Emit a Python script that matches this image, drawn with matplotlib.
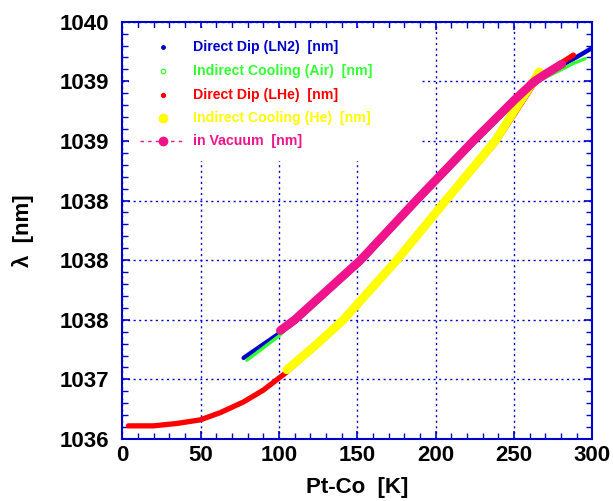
import numpy as np
import matplotlib
matplotlib.use("Agg")
import matplotlib.pyplot as plt
from matplotlib.patches import Rectangle
from matplotlib.ticker import MultipleLocator, FixedLocator

plt.rcParams['font.family'] = ['Liberation Sans', 'DejaVu Sans']
plt.rcParams['font.weight'] = 'bold'

# --- data ---
# Direct Dip (LN2)
ln2_T = [77.4, 100.6, 110.0, 152.0, 187.5, 224.0, 250.0, 263.0, 277.3, 292.2, 298.6]
ln2_L = [1036.68, 1036.89, 1036.98, 1037.48, 1037.98, 1038.48, 1038.82, 1038.98, 1039.11, 1039.22, 1039.27]
# Indirect Cooling (Air)
air_T = [79.4, 99.6, 110.0, 152.0, 187.5, 224.0, 250.0, 263.0, 266.7, 280.5, 287.9, 295.4]
air_L = [1036.66, 1036.86, 1036.99, 1037.50, 1038.01, 1038.51, 1038.84, 1038.98, 1039.01, 1039.10, 1039.15, 1039.19]
# Direct Dip (LHe)
lhe_T = [3.8, 19.7, 34.7, 49.6, 62.3, 77.2, 90.0, 103.8, 121.9, 141.1, 175.2, 206.4,
         238.0, 250.0, 262.4, 270.0, 278.4, 287.9]
lhe_L = [1036.11, 1036.11, 1036.13, 1036.16, 1036.22, 1036.31, 1036.41, 1036.55, 1036.76, 1036.99,
         1037.49, 1037.99, 1038.48, 1038.72, 1038.97, 1039.07, 1039.14, 1039.22]
# Indirect Cooling (He)
he_T = [104.9, 121.9, 141.1, 175.2, 206.4, 238.0, 250.0, 262.4, 266.0]
he_L = [1036.58, 1036.77, 1037.00, 1037.50, 1038.00, 1038.50, 1038.75, 1039.00, 1039.08]
# in Vacuum
vac_T = [100.8, 110.0, 152.0, 187.5, 224.0, 250.0, 263.0, 270.0, 280.5]
vac_L = [1036.91, 1037.00, 1037.50, 1038.00, 1038.50, 1038.84, 1039.00, 1039.06, 1039.145]

series_labels = ['Direct Dip (LN2)  [nm]', 'Indirect Cooling (Air)  [nm]',
                 'Direct Dip (LHe)  [nm]', 'Indirect Cooling (He)  [nm]',
                 'in Vacuum  [nm]']
series_colors = ['#0000cc', '#33ff33', '#ff0000', '#ffff00', '#f0148c']

y_ticks = [1036.0, 1036.5, 1037.0, 1037.5, 1038.0, 1038.5, 1039.0, 1039.5]
y_ticklabels = ['1036', '1037', '1038', '1038', '1038', '1039', '1039', '1040']
x_ticks = [0, 50, 100, 150, 200, 250, 300]

axis_blue = '#0000cc'

fig = plt.figure(figsize=(6.13, 5.01), dpi=100)
ax = fig.add_axes([0.1997, 0.1238, 0.7666, 0.8329])

data = [(ln2_T, ln2_L), (air_T, air_L), (lhe_T, lhe_L), (he_T, he_L), (vac_T, vac_L)]
widths = [3.2, 2.4, 3.8, 6.2, 6.2]
for (t, l), c, w in zip(data, series_colors, widths):
    ax.plot(t, l, color=c, lw=w, solid_capstyle='round', solid_joinstyle='round', zorder=3)

ax.set_xlim(0, 300)
ax.set_ylim(1036.0, 1039.5)
ax.xaxis.set_major_locator(FixedLocator(x_ticks))
ax.xaxis.set_minor_locator(MultipleLocator(10))
ax.yaxis.set_major_locator(FixedLocator(y_ticks))
ax.yaxis.set_minor_locator(MultipleLocator(0.1))
ax.set_yticklabels(y_ticklabels)

ax.grid(True, which='major', color=axis_blue, linestyle=(0, (1.5, 2.5)), lw=1.0)
for s in ax.spines.values():
    s.set_color(axis_blue)
    s.set_linewidth(1.5)
ax.tick_params(which='both', direction='in', top=True, right=True, color=axis_blue)
ax.tick_params(which='major', length=6, width=1.2)
ax.tick_params(which='minor', length=4, width=1.0)
ax.tick_params(axis='y', which='major', labelsize=16, pad=9.5)
ax.tick_params(axis='x', which='major', labelsize=16, pad=4)

ax.set_xlabel('Pt-Co  [K]', fontsize=16, fontweight='bold')
ax.set_ylabel('λ  [nm]', fontsize=16, fontweight='bold')
ax.xaxis.set_label_coords(0.5, -0.09)
ax.yaxis.set_label_coords(-0.188, 0.5)

# legend drawn by hand; white box hides the grid behind it
ax.add_patch(Rectangle((0.015, 0.666), 0.6205, 0.32, transform=ax.transAxes,
                       facecolor='white', edgecolor='none', zorder=2))
marker_styles = [dict(marker='o', ms=2.5, mfc=series_colors[0], mec=series_colors[0]),
                 dict(marker='o', ms=3.2, mfc='white', mec=series_colors[1], mew=0.9),
                 dict(marker='o', ms=2.8, mfc=series_colors[2], mec=series_colors[2]),
                 dict(marker='o', ms=6, mfc=series_colors[3], mec=series_colors[3]),
                 dict(marker='o', ms=6, mfc=series_colors[4], mec=series_colors[4])]
row_y = [0.9386, 0.8826, 0.8251, 0.7693, 0.7134]
for lab, c, ms, yy in zip(series_labels, series_colors, marker_styles, row_y):
    ax.plot([0.0864], [yy], transform=ax.transAxes, ls='none', zorder=4, **ms)
    ax.text(0.151, yy, lab, transform=ax.transAxes, color=c, fontsize=10.2,
            fontweight='bold', va='center', ha='left', zorder=4)
ax.plot([0.0375, 0.133], [row_y[4], row_y[4]], transform=ax.transAxes,
        color=series_colors[4], lw=1.0, ls=(0, (2.5, 3)), zorder=3)

fig.savefig('out.png', dpi=100)
